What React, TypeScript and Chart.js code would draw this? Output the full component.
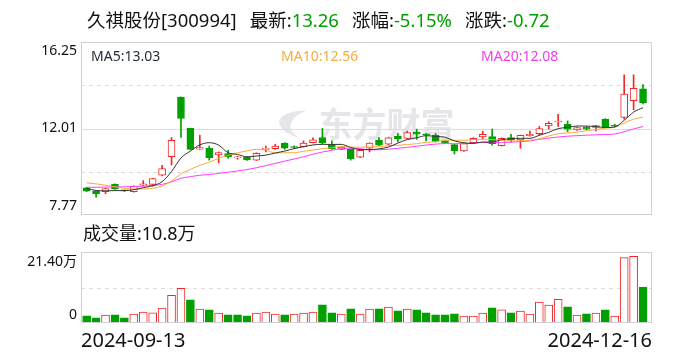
import React, { useEffect, useRef } from 'react';
import { Chart, registerables } from 'chart.js';

Chart.register(...registerables);

// ---------- data ----------
const dates = ['2024-09-13','2024-09-18','2024-09-19','2024-09-20','2024-09-23','2024-09-24','2024-09-25','2024-09-26','2024-09-27','2024-09-30','2024-10-08','2024-10-09','2024-10-10','2024-10-11','2024-10-14','2024-10-15','2024-10-16','2024-10-17','2024-10-18','2024-10-21','2024-10-22','2024-10-23','2024-10-24','2024-10-25','2024-10-28','2024-10-29','2024-10-30','2024-10-31','2024-11-01','2024-11-04','2024-11-05','2024-11-06','2024-11-07','2024-11-08','2024-11-11','2024-11-12','2024-11-13','2024-11-14','2024-11-15','2024-11-18','2024-11-19','2024-11-20','2024-11-21','2024-11-22','2024-11-25','2024-11-26','2024-11-27','2024-11-28','2024-11-29','2024-12-02','2024-12-03','2024-12-04','2024-12-05','2024-12-06','2024-12-09','2024-12-10','2024-12-11','2024-12-12','2024-12-13','2024-12-16'];

const opens = [9.10,8.94,8.91,9.27,8.97,8.91,9.23,9.27,9.72,10.63,13.54,12.02,11.00,11.04,10.71,10.78,10.57,10.60,10.46,10.99,11.02,11.29,11.12,11.12,11.32,11.57,11.22,10.99,10.99,10.61,11.04,11.43,11.24,11.63,11.52,11.83,11.72,11.67,11.40,11.22,10.91,11.32,11.60,11.62,11.17,11.57,11.45,11.66,11.76,12.14,12.33,12.22,11.94,12.07,12.06,12.47,12.18,12.55,13.38,13.96];
const highs = [9.13,8.96,9.09,9.30,8.99,9.20,9.46,9.57,10.20,11.57,13.56,12.03,11.68,11.15,10.86,10.94,10.65,10.63,10.82,11.15,11.24,11.31,11.16,11.40,11.55,12.01,11.40,11.12,11.00,10.96,11.31,11.57,11.57,11.76,11.88,11.98,11.76,11.76,11.42,11.24,11.29,11.56,11.88,11.98,11.55,11.73,11.69,11.88,12.11,12.34,12.71,12.38,12.08,12.11,12.16,12.49,12.22,14.64,14.64,14.16];
const lows = [8.92,8.64,8.81,9.02,8.92,8.89,9.20,9.18,9.68,10.22,11.57,10.97,10.98,10.46,10.33,10.56,10.50,10.44,10.44,10.86,10.98,10.99,11.04,11.10,11.30,11.25,10.99,10.97,10.46,10.58,10.86,11.17,11.19,11.35,11.50,11.48,11.40,11.35,11.28,10.76,10.89,11.30,11.48,11.19,11.15,11.35,11.04,11.64,11.69,11.98,12.11,11.86,11.92,11.94,11.89,12.08,12.10,12.47,12.92,13.22];
const closes = [8.94,8.81,9.07,9.05,8.95,9.18,9.30,9.55,10.04,11.43,12.50,10.99,11.07,10.58,10.83,10.63,10.58,10.48,10.79,11.04,11.15,11.05,11.08,11.29,11.45,11.30,11.02,11.10,10.53,10.94,11.29,11.19,11.55,11.50,11.81,11.73,11.70,11.38,11.30,10.91,11.27,11.53,11.73,11.27,11.53,11.45,11.67,11.72,12.01,12.26,12.36,11.98,12.06,11.98,12.15,12.10,12.13,13.70,13.98,13.26];
// closes of the 19 sessions before the first visible one (needed for MA lines)
const priorCloses = [8.85,8.80,8.88,8.92,8.95,8.90,8.86,8.93,8.98,9.03,9.35,9.70,9.85,9.75,9.50,9.30,9.15,9.00,8.96];
// volume in 万
const volumes = [2.19,1.59,2.39,2.49,1.59,2.69,3.28,3.08,4.48,8.36,10.45,6.97,4.18,3.98,2.99,2.49,2.49,2.19,2.99,3.28,2.69,2.49,2.69,2.99,3.28,5.47,3.08,2.69,4.28,2.69,4.18,4.28,4.78,3.68,4.18,3.98,3.08,2.49,2.49,2.79,2.09,2.09,2.99,4.58,3.98,3.08,3.58,2.69,6.27,5.37,7.16,4.88,2.39,2.79,2.99,3.98,2.09,19.7,20.1,10.8];

const priceTickLabels = ['16.25', '12.01', '7.77'];
const priceMin = 7.77;
const priceMax = 16.25;
const volTickLabels = ['21.40万', '0'];
const volMax = 21.40;

const titleName = '久祺股份[300994]';
const titleLast = '13.26';
const titlePct = '-5.15%';
const titleChg = '-0.72';
const maLegend = ['MA5:13.03', 'MA10:12.56', 'MA20:12.08'];
const volLegend = '成交量:10.8万';

// ---------- styles ----------
const RED = '#f02828';
const GREEN = '#00a000';
const MA_COLORS = ['#333333', '#f6ad3a', '#ff3cff'];
const MA_TEXT = ['#1e2a36', '#f6ad3a', '#f23cf2'];
const FONT = '"Noto Sans", "Noto Sans CJK SC", sans-serif';
const GRID = '#dcdcdc';
const FRAME = '#cfd0d8';

const idx = closes.map((_, i) => i);
const up = closes.map((c, i) => c >= opens[i]);
const candleColor = up.map(u => (u ? RED : GREEN));
const volUp = closes.map((c, i) => c >= (i === 0 ? priorCloses[priorCloses.length - 1] : closes[i - 1]));
const allCloses = [...priorCloses, ...closes];
const movingAvg = (n: number) =>
  closes.map((_, i) => {
    const end = i + priorCloses.length;
    let s = 0;
    for (let k = end - n + 1; k <= end; k++) s += allCloses[k];
    return s / n;
  });

const X_MIN = -0.6;
const X_MAX = 59.95;

const framePlugin = (kind: 'price' | 'vol') => ({
  id: 'frame_' + kind,
  beforeDatasetsDraw(chart: any) {
    const { ctx, chartArea: a, scales } = chart;
    const y = scales.y;
    ctx.save();
    if (kind === 'price') {
      // watermark
      const cx = (a.left + a.right) / 2;
      const cy = (a.top + a.bottom) / 2 - 4;
      ctx.fillStyle = '#e6e6ea';
      ctx.beginPath();
      ctx.moveTo(cx - 66, cy + 14);
      ctx.bezierCurveTo(cx - 98, cy + 4, cx - 92, cy - 14, cx - 60, cy - 14);
      ctx.bezierCurveTo(cx - 80, cy - 6, cx - 80, cy + 6, cx - 66, cy + 14);
      ctx.fill();
      ctx.font = 'bold 34px "Noto Sans CJK SC"';
      ctx.textBaseline = 'middle';
      ctx.textAlign = 'left';
      ctx.fillText('东方财富', cx - 48, cy);
    }
    const lo = kind === 'price' ? priceMin : 0;
    const hi = kind === 'price' ? priceMax : volMax;
    const mid = (lo + hi) / 2;
    ctx.lineWidth = 1;
    ctx.strokeStyle = GRID;
    const hline = (v: number, dash: number[]) => {
      const py = Math.round(y.getPixelForValue(v)) + 0.5;
      ctx.setLineDash(dash);
      ctx.beginPath();
      ctx.moveTo(a.left, py);
      ctx.lineTo(a.right, py);
      ctx.stroke();
    };
    if (kind === 'price') {
      hline(mid, []);
      hline((lo + mid) / 2, [4, 4]);
      hline((mid + hi) / 2, [4, 4]);
    } else {
      hline(mid, [4, 4]);
    }
    ctx.restore();
  },
  afterDraw(chart: any) {
    const { ctx, chartArea: a, scales } = chart;
    const y = scales.y;
    ctx.save();
    ctx.setLineDash([]);
    ctx.strokeStyle = FRAME;
    ctx.lineWidth = 1;
    ctx.strokeRect(a.left + 0.5, a.top + 0.5, a.right - a.left - 1, a.bottom - a.top - 1);
    ctx.fillStyle = '#111';
    ctx.font = '14px ' + FONT;
    ctx.textAlign = 'right';
    ctx.textBaseline = 'middle';
    const lx = a.left - 4;
    if (kind === 'price') {
      ctx.fillText(priceTickLabels[0], lx, y.getPixelForValue(priceMax) + 9.5);
      ctx.fillText(priceTickLabels[1], lx, y.getPixelForValue((priceMax + priceMin) / 2));
      ctx.fillText(priceTickLabels[2], lx, y.getPixelForValue(priceMin) - 9);
    } else {
      ctx.fillText(volTickLabels[0], lx, y.getPixelForValue(volMax) + 10);
      ctx.fillText(volTickLabels[1], lx, y.getPixelForValue(0) - 7.5);
      ctx.font = '20px ' + FONT;
      ctx.textAlign = 'left';
      ctx.fillText(dates[0], a.left, a.bottom + 18);
      ctx.textAlign = 'right';
      ctx.fillText(dates[dates.length - 1], a.right, a.bottom + 18);
    }
    ctx.restore();
  },
});

const baseOptions = (padding: any, yMin: number, yMax: number) => ({
  animation: false,
  responsive: false,
  devicePixelRatio: 1,
  events: [],
  layout: { padding },
  plugins: { legend: { display: false }, tooltip: { enabled: false } },
  scales: {
    x: { type: 'linear', min: X_MIN, max: X_MAX, offset: false, display: false },
    y: { type: 'linear', min: yMin, max: yMax, display: false },
  },
});

export default function App() {
  const priceRef = useRef<HTMLCanvasElement>(null);
  const volRef = useRef<HTMLCanvasElement>(null);

  useEffect(() => {
    const [ma5, ma10, ma20] = [movingAvg(5), movingAvg(10), movingAvg(20)];
    const lineDs = (vals: number[], color: string) => ({
      type: 'line',
      data: idx.map(i => ({ x: i, y: vals[i] })),
      borderColor: color,
      borderWidth: 1,
      pointRadius: 0,
      cubicInterpolationMode: 'monotone',
      fill: false,
      order: 0,
    });
    const price = new Chart(priceRef.current as HTMLCanvasElement, {
      type: 'bar',
      data: {
        datasets: [
          lineDs(ma5, MA_COLORS[0]),
          lineDs(ma10, MA_COLORS[1]),
          lineDs(ma20, MA_COLORS[2]),
          {
            type: 'bar',
            data: idx.map(i => ({ x: i, y: [opens[i], closes[i]] })),
            backgroundColor: up.map(u => (u ? '#ffffff' : GREEN)),
            borderColor: candleColor,
            borderWidth: 1,
            borderSkipped: false,
            barThickness: 7,
            minBarLength: 1,
            grouped: false,
            order: 1,
          },
          {
            type: 'bar',
            data: idx.map(i => ({ x: i, y: [lows[i], highs[i]] })),
            backgroundColor: candleColor,
            borderWidth: 0,
            barThickness: 1,
            grouped: false,
            order: 2,
          },
        ],
      } as any,
      options: baseOptions({ left: 81, right: 36, top: 42, bottom: 5 }, priceMin, priceMax) as any,
      plugins: [framePlugin('price')],
    });
    const vol = new Chart(volRef.current as HTMLCanvasElement, {
      type: 'bar',
      data: {
        datasets: [
          {
            data: idx.map(i => ({ x: i, y: volumes[i] })),
            backgroundColor: volUp.map(u => (u ? '#ffffff' : GREEN)),
            borderColor: volUp.map(u => (u ? RED : GREEN)),
            borderWidth: 1,
            borderSkipped: false,
            barThickness: 8,
            grouped: false,
          },
        ],
      } as any,
      options: baseOptions({ left: 81, right: 36, top: 32, bottom: 37 }, 0, volMax) as any,
      plugins: [framePlugin('vol')],
    });
    return () => {
      price.destroy();
      vol.destroy();
    };
  }, []);

  const abs = (l: number, t: number, extra: any = {}) => ({
    position: 'absolute' as const,
    left: l,
    top: t,
    whiteSpace: 'nowrap' as const,
    ...extra,
  });

  return (
    <div style={{ position: 'absolute', left: 0, top: 0, width: 688, height: 360, overflow: 'hidden', background: '#fff', fontFamily: FONT }}>
      <canvas ref={priceRef} width={688} height={220} style={{ position: 'absolute', left: 0, top: 0 }} />
      <canvas ref={volRef} width={688} height={140} style={{ position: 'absolute', left: 0, top: 220 }} />
      <div style={abs(87, 8, { fontSize: 18.5, lineHeight: '24px', color: '#111' })}>
        <span>{titleName}</span>
        <span style={{ marginLeft: 13 }}>最新:</span>
        <span style={{ color: GREEN }}>{titleLast}</span>
        <span style={{ marginLeft: 13 }}>涨幅:</span>
        <span style={{ color: GREEN }}>{titlePct}</span>
        <span style={{ marginLeft: 13 }}>涨跌:</span>
        <span style={{ color: GREEN }}>{titleChg}</span>
      </div>
      <div style={abs(91, 46, { fontSize: 14, lineHeight: '20px', color: MA_TEXT[0] })}>{maLegend[0]}</div>
      <div style={abs(281, 46, { fontSize: 14, lineHeight: '20px', color: MA_TEXT[1] })}>{maLegend[1]}</div>
      <div style={abs(481, 46, { fontSize: 14, lineHeight: '20px', color: MA_TEXT[2] })}>{maLegend[2]}</div>
      <div style={abs(83, 221, { fontSize: 18, lineHeight: '24px', color: '#111' })}>{volLegend}</div>
    </div>
  );
}
